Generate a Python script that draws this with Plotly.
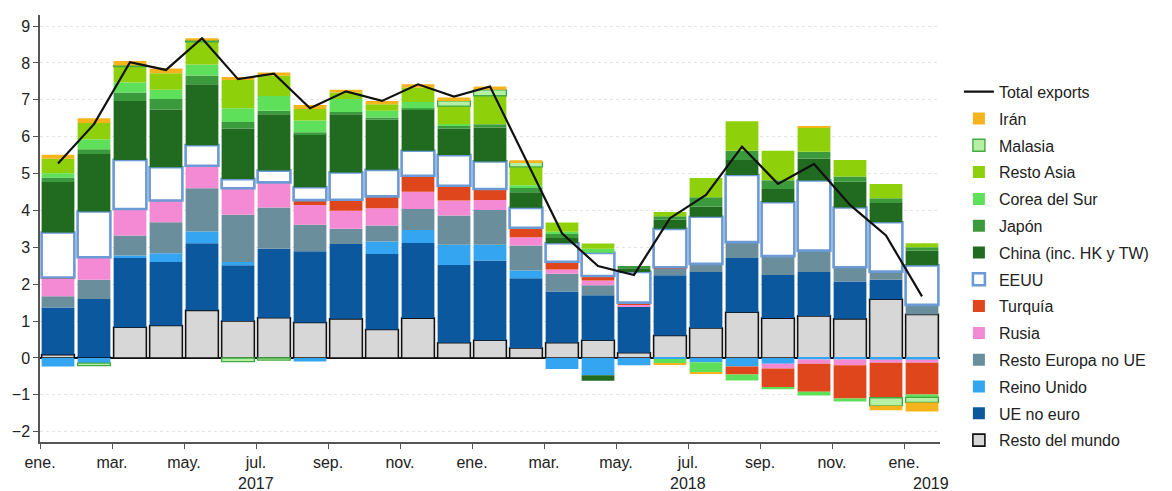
import plotly.graph_objects as go

months = ["2017-01", "2017-02", "2017-03", "2017-04", "2017-05", "2017-06", "2017-07",
          "2017-08", "2017-09", "2017-10", "2017-11", "2017-12", "2018-01", "2018-02",
          "2018-03", "2018-04", "2018-05", "2018-06", "2018-07", "2018-08", "2018-09",
          "2018-10", "2018-11", "2018-12", "2019-01"]

tick_labels = ["ene.", "mar.", "may.", "jul.", "sep.", "nov.",
               "ene.", "mar.", "may.", "jul.", "sep.", "nov.", "ene."]
year_labels = ["2017", "2018", "2019"]

resto_mundo = [0.09, 0.02, 0.83, 0.88, 1.29, 1.00, 1.09, 0.96, 1.06, 0.77, 1.08, 0.41, 0.48,
               0.27, 0.41, 0.48, 0.14, 0.61, 0.81, 1.24, 1.08, 1.14, 1.06, 1.59, 1.18]
ue_no_euro = [1.28, 1.58, 1.88, 1.72, 1.82, 1.51, 1.87, 1.93, 2.03, 2.05, 2.04, 2.11, 2.16,
              1.89, 1.39, 1.22, 1.26, 1.63, 1.52, 1.47, 1.17, 1.19, 1.01, 0.53, 0.0]
reino_unido = [-0.23, -0.14, 0.07, 0.24, 0.32, 0.09, 0.0, -0.10, 0.0, 0.34, 0.35, 0.55, 0.43,
               0.21, -0.30, -0.47, -0.20, -0.03, -0.12, -0.23, -0.16, -0.04, -0.04, -0.05, -0.05]
resto_europa = [0.30, 0.52, 0.54, 0.84, 1.17, 1.28, 1.12, 0.72, 0.41, 0.43, 0.57, 0.79, 0.94,
                0.68, 0.48, 0.27, 0.0, 0.18, 0.22, 0.43, 0.51, 0.58, 0.39, 0.22, 0.26]
rusia = [0.48, 0.61, 0.72, 0.59, 0.61, 0.72, 0.68, 0.54, 0.49, 0.47, 0.47, 0.41, 0.27,
         0.22, 0.12, 0.13, 0.05, 0.0, 0.0, 0.0, -0.13, -0.12, -0.16, -0.08, -0.08]
turquia = [0.03, 0.0, 0.0, 0.0, 0.0, 0.0, 0.0, 0.13, 0.30, 0.32, 0.43, 0.40, 0.30,
           0.26, 0.21, 0.12, 0.05, 0.04, 0.0, -0.22, -0.50, -0.76, -0.90, -0.95, -0.86]
eeuu = [1.22, 1.24, 1.33, 0.90, 0.56, 0.25, 0.32, 0.35, 0.74, 0.72, 0.68, 0.83, 0.75,
        0.54, 0.50, 0.63, 0.83, 1.04, 1.28, 1.82, 1.46, 1.90, 1.62, 1.34, 1.07]
china = [1.37, 1.56, 1.60, 1.57, 1.65, 1.37, 1.53, 1.44, 1.58, 1.36, 1.12, 0.72, 0.92,
         0.42, 0.14, -0.15, 0.10, 0.25, 0.28, 0.41, 0.36, 0.60, 0.70, 0.52, 0.40]
japon = [0.12, 0.13, 0.23, 0.28, 0.24, 0.18, 0.09, 0.05, 0.06, 0.06, 0.03, 0.07, 0.09,
         0.14, 0.11, 0.0, 0.06, 0.09, 0.25, 0.25, 0.24, 0.18, 0.14, 0.13, 0.09]
corea = [0.12, 0.27, 0.27, 0.25, 0.30, 0.37, 0.40, 0.32, 0.35, 0.18, 0.17, 0.05, 0.0,
         0.05, 0.06, 0.11, 0.0, -0.12, -0.27, -0.16, -0.06, -0.10, -0.08, 0.0, -0.08]
resto_asia = [0.39, 0.44, 0.43, 0.45, 0.61, 0.77, 0.55, 0.31, 0.18, 0.18, 0.39, 0.49, 0.77,
              0.50, 0.25, 0.14, 0.0, 0.12, 0.52, 0.80, 0.80, 0.66, 0.45, 0.39, 0.11]
malasia = [None, -0.07, 0.03, None, 0.04, -0.10, -0.06, None, None, None, None, 0.14, 0.16,
           0.13, None, None, None, None, None, None, None, None, None, -0.22, -0.14]
iran = [0.11, 0.13, 0.12, 0.13, 0.06, 0.08, 0.09, 0.11, 0.07, 0.09, 0.09, 0.09, 0.09,
        0.05, 0.0, 0.0, 0.0, -0.03, -0.03, 0.0, 0.0, 0.02, 0.0, -0.12, -0.24]
total_exports = [5.27, 6.34, 8.02, 7.81, 8.67, 7.56, 7.71, 6.77, 7.23, 6.97, 7.42, 7.09, 7.36,
                 5.35, 3.38, 2.49, 2.25, 3.79, 4.42, 5.73, 4.72, 5.26, 4.15, 3.32, 1.67]

x = list(range(len(months)))

# (name, values, fill colour, border colour, border width) bottom -> top
series = [
    ("Resto del mundo", resto_mundo, "#d7d7d7", "#111111", 1.6),
    ("UE no euro", ue_no_euro, "#0b589f", None, 0),
    ("Reino Unido", reino_unido, "#34a5f0", None, 0),
    ("Resto Europa no UE", resto_europa, "#6b8e9c", None, 0),
    ("Rusia", rusia, "#f58ad4", None, 0),
    ("Turquía", turquia, "#e0461b", None, 0),
    ("EEUU", eeuu, "#ffffff", "#6b9ad4", 2.6),
    ("China (inc. HK y TW)", china, "#216b21", None, 0),
    ("Japón", japon, "#3b9a3b", None, 0),
    ("Corea del Sur", corea, "#5fe05a", None, 0),
    ("Resto Asia", resto_asia, "#8ed10a", None, 0),
    ("Malasia", malasia, "#b5f0a5", "#45aa45", 1.4),
    ("Irán", iran, "#f5b31c", None, 0),
]

n = len(series)
fig = go.Figure()
for i, (name, vals, fill, edge, lw) in enumerate(series):
    fig.add_trace(go.Bar(
        x=x, y=vals, name=name, legendgroup=f"g{i}", legendrank=n + 1 - i,
        marker=dict(color=fill, line=dict(color=edge if edge else fill, width=lw)),
    ))

fig.add_trace(go.Scatter(
    x=x, y=total_exports, name="Total exports", mode="lines", legendgroup="gline",
    legendrank=0, line=dict(color="#111111", width=2.2),
))

tickvals = [i - 0.5 for i in range(0, len(months), 2)]
year_pos = [5.5, 17.5, 24.25]
for xp, lab in zip(year_pos, year_labels):
    fig.add_annotation(x=xp, y=-0.097, xref="x", yref="paper", text=lab, showarrow=False,
                       font=dict(size=16, color="#222222"), yanchor="middle", xanchor="center")

fig.update_layout(
    width=1172, height=491,
    margin=dict(l=36, r=232, t=15, b=49),
    paper_bgcolor="white", plot_bgcolor="white",
    barmode="relative", bargap=0.09,
    font=dict(family="Liberation Sans, Arial, sans-serif", size=16, color="#222222"),
    showlegend=True,
    legend=dict(x=1.021, y=0.86, xanchor="left", yanchor="top", traceorder="grouped",
                tracegroupgap=3, font=dict(size=16, color="#222222"), itemwidth=30,
                bgcolor="rgba(0,0,0,0)"),
    xaxis=dict(range=[-0.5, 24.5], tickmode="array", tickvals=tickvals, ticktext=tick_labels,
               ticks="outside", ticklen=5, tickcolor="#555555", showline=True,
               linecolor="#555555", linewidth=1.5, showgrid=False, zeroline=False,
               tickfont=dict(size=16)),
    yaxis=dict(range=[-2.28, 9.3], dtick=1, tick0=0, ticks="outside", ticklen=5,
               tickcolor="#555555", showline=True, linecolor="#555555", linewidth=1.5,
               showgrid=True, gridcolor="#e4e4e4", griddash="dot", gridwidth=1,
               zeroline=True, zerolinecolor="#111111", zerolinewidth=2,
               tickfont=dict(size=16)),
)

fig.write_html("out.html", config={"displayModeBar": False},
               post_script="document.body.style.margin='0';")
